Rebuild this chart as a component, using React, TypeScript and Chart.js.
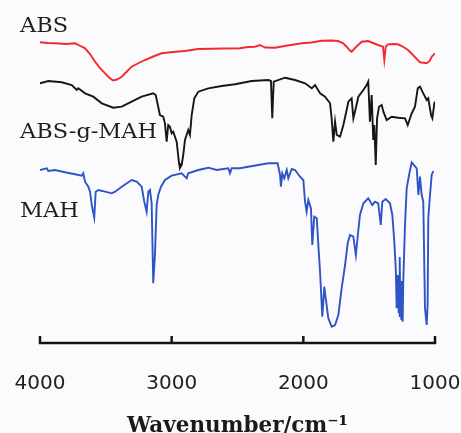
import { useEffect, useRef } from "react";
import { Chart, registerables } from "chart.js";

Chart.register(...registerables);

// ABS spectrum (wavenumber, relative transmittance units)
const absWn = [4000, 3940, 3886, 3800, 3734, 3700, 3658, 3620, 3582, 3545, 3506, 3475, 3446, 3415, 3379, 3340, 3304, 3250, 3203, 3140, 3076, 2990, 2899, 2800, 2700, 2600, 2481, 2420, 2367, 2330, 2290, 2215, 2120, 2012, 1940, 1860, 1790, 1737, 1700, 1671, 1650, 1633, 1600, 1557, 1509, 1470, 1433, 1395, 1385, 1374, 1357, 1320, 1281, 1240, 1205, 1160, 1114, 1063, 1040, 1025, 1000];
const absT = [300.7, 300, 299.7, 299, 299.7, 297.5, 294.7, 289, 281.3, 275, 269.7, 265.5, 262.5, 263.5, 266.3, 271.5, 276.3, 280, 283, 286.5, 289.7, 291, 292, 294, 294.3, 294.5, 294.7, 296, 296.3, 298, 295.5, 295.3, 297.5, 299.7, 300.5, 302.3, 302.5, 302, 300, 296.3, 293, 291.3, 296, 301.3, 302, 300, 298, 296.3, 283, 296.3, 298.7, 299, 298.7, 296, 293, 287, 280.7, 279.7, 282, 286.3, 289.7];

// ABS-g-MAH spectrum
const graftWn = [4000, 3937, 3835, 3759, 3721, 3709, 3658, 3595, 3531, 3443, 3379, 3304, 3228, 3140, 3121, 3089, 3064, 3051, 3038, 3026, 3013, 3000, 2988, 2962, 2944, 2937, 2924, 2912, 2899, 2874, 2861, 2848, 2828, 2798, 2722, 2620, 2519, 2392, 2266, 2246, 2236, 2225, 2139, 2063, 1987, 1936, 1911, 1873, 1835, 1797, 1785, 1772, 1759, 1746, 1721, 1696, 1671, 1658, 1633, 1620, 1608, 1582, 1544, 1519, 1507, 1494, 1481, 1469, 1461, 1450, 1440, 1425, 1405, 1392, 1367, 1329, 1279, 1228, 1207, 1177, 1152, 1131, 1114, 1089, 1063, 1051, 1030, 1020, 1005, 1000];
const graftT = [259.7, 262, 260.7, 258, 253, 254.7, 249.7, 246.3, 239.7, 235.3, 236.3, 241.3, 246.3, 249.7, 248, 228, 226.3, 219.7, 201.3, 218, 216.3, 209.7, 211.3, 201.3, 179.7, 175, 178, 188, 203, 213, 208, 228, 244.7, 251.3, 254.7, 257, 258.7, 262, 263, 262, 224.7, 261.3, 265.3, 263, 259.7, 254.7, 258, 249.7, 246.3, 239.7, 224.7, 201.3, 221.3, 208, 206.3, 218, 233, 241.3, 244.7, 224.7, 231.3, 246.3, 253, 258, 261.3, 221.3, 248, 203, 218, 178, 224.7, 236.3, 238, 231.3, 223, 226.3, 225.3, 224.7, 218, 229.7, 236.3, 254.7, 256.3, 249.7, 243, 244.7, 228, 224.7, 239.7, 241.3];

// MAH spectrum
const mahWn = [4000, 3949, 3937, 3886, 3810, 3734, 3683, 3671, 3658, 3633, 3620, 3607, 3588, 3577, 3557, 3506, 3455, 3430, 3379, 3304, 3266, 3228, 3208, 3190, 3177, 3165, 3152, 3140, 3127, 3114, 3102, 3081, 3051, 3000, 2924, 2886, 2874, 2798, 2722, 2658, 2570, 2557, 2544, 2481, 2418, 2266, 2195, 2177, 2170, 2160, 2145, 2126, 2114, 2088, 2063, 2025, 2000, 1987, 1975, 1962, 1942, 1932, 1917, 1898, 1886, 1873, 1856, 1841, 1830, 1810, 1785, 1759, 1734, 1709, 1683, 1663, 1646, 1620, 1601, 1586, 1570, 1544, 1507, 1476, 1456, 1431, 1412, 1400, 1374, 1342, 1324, 1309, 1298, 1291, 1286, 1282, 1279, 1276, 1273, 1270, 1266, 1263, 1259, 1256, 1253, 1250, 1247, 1244, 1241, 1228, 1215, 1197, 1177, 1139, 1126, 1114, 1101, 1089, 1076, 1063, 1056, 1051, 1038, 1025, 1013, 1000];
const mahT = [173, 174.7, 172, 173, 170.7, 168.7, 167.3, 169.7, 161.3, 156.3, 151.3, 138, 125.3, 151.3, 153, 151.3, 149.7, 151.3, 156.3, 163, 161.3, 156.3, 141.3, 131.3, 151.3, 153, 139.7, 59.7, 88, 138, 148, 156.3, 163, 167.3, 169.7, 164.7, 169.7, 173, 175.3, 173, 174.7, 169.7, 174.7, 174.7, 176.3, 179.7, 179.7, 168, 156.3, 169.7, 164.7, 173, 164.7, 174, 173, 166.3, 163, 141.3, 131.3, 143, 134.7, 98, 126.3, 124.7, 98, 71.3, 26.3, 56.3, 44.7, 24.7, 16.3, 18, 28, 54.7, 78, 99.7, 108, 106.3, 88, 108, 128, 139.7, 144.7, 138, 141.3, 139.7, 118, 141.3, 144, 139.7, 128, 101.3, 74.7, 34.7, 68, 38, 64, 30, 66, 26, 86, 30, 62, 24, 58, 28, 62, 21.3, 61.3, 118, 154.7, 168, 180.7, 174.7, 148, 166.3, 148, 141.3, 34.7, 18, 38, 124.7, 148, 168, 172];

const seriesNames = ["ABS", "ABS-g-MAH", "MAH"];
const seriesColors = ["#f22a2c", "#161616", "#2f54c6"];
const tickValues = [4000, 3000, 2000, 1000];
const xTitle = "Wavenumber/cm\u207B\u00B9";

const toPoints = (xs: number[], ys: number[]) => xs.map((x, i) => ({ x, y: ys[i] }));

export default function App() {
  const ref = useRef<HTMLCanvasElement>(null);

  useEffect(() => {
    document.body.style.margin = "0";
    if (!ref.current) return;

    const decor = {
      id: "decor",
      afterDatasetsDraw(chart: any) {
        const { ctx, chartArea, scales } = chart;
        const xs = scales.x;
        const y0 = chartArea.bottom;
        ctx.save();
        ctx.strokeStyle = "#151515";
        ctx.lineWidth = 2.5;
        ctx.beginPath();
        ctx.moveTo(xs.getPixelForValue(tickValues[0]) - 1, y0);
        ctx.lineTo(xs.getPixelForValue(tickValues[tickValues.length - 1]) + 1, y0);
        tickValues.forEach((v) => {
          const px = xs.getPixelForValue(v);
          ctx.moveTo(px, y0 + 1);
          ctx.lineTo(px, y0 - 7);
        });
        ctx.stroke();

        // series labels
        const baselines = [32, 138, 217];
        ctx.fillStyle = "#1e1e1e";
        ctx.font = "19.5px 'DejaVu Serif'";
        ctx.textBaseline = "alphabetic";
        ctx.textAlign = "left";
        seriesNames.forEach((name, i) => {
          ctx.save();
          ctx.translate(chartArea.left - 20, baselines[i]);
          ctx.scale(1.15, 1);
          ctx.fillText(name, 0, 0);
          ctx.restore();
        });
        ctx.restore();
      },
    };

    const chart = new Chart(ref.current, {
      type: "line",
      data: {
        datasets: [
          { label: seriesNames[0], data: toPoints(absWn, absT), borderColor: seriesColors[0] },
          { label: seriesNames[1], data: toPoints(graftWn, graftT), borderColor: seriesColors[1] },
          { label: seriesNames[2], data: toPoints(mahWn, mahT), borderColor: seriesColors[2] },
        ],
      },
      options: {
        animation: false,
        responsive: false,
        maintainAspectRatio: false,
        parsing: false as any,
        layout: { padding: { left: 40, right: 26, top: 0, bottom: 0 } },
        elements: {
          point: { radius: 0 },
          line: { borderWidth: 1.9, tension: 0 },
        },
        plugins: { legend: { display: false }, tooltip: { enabled: false } },
        scales: {
          x: {
            type: "linear",
            min: 1000,
            max: 4000,
            reverse: true,
            border: { display: false },
            grid: { display: false, drawTicks: false },
            afterFit: (scale: any) => {
              scale.paddingLeft = 0;
              scale.paddingRight = 0;
              scale.height = 90;
            },
            ticks: {
              stepSize: 1000,
              autoSkip: false,
              maxRotation: 0,
              padding: 29,
              color: "#222",
              font: { family: "'DejaVu Sans'", size: 20 },
              callback: (v: any) => String(v),
            },
            title: {
              display: true,
              text: xTitle,
              color: "#1a1a1a",
              font: { family: "'DejaVu Serif'", size: 21.5, weight: "bold", lineHeight: 1 },
              padding: { top: 0, bottom: -4.5 },
            },
          },
          y: {
            type: "linear",
            display: false,
            min: 0,
            max: 343,
          },
        },
      },
      plugins: [decor],
    });
    return () => chart.destroy();
  }, []);

  return (
    <div style={{ width: 461, height: 433, background: "#fbfbfd" }}>
      <canvas ref={ref} width={461} height={433} style={{ display: "block" }} />
    </div>
  );
}
